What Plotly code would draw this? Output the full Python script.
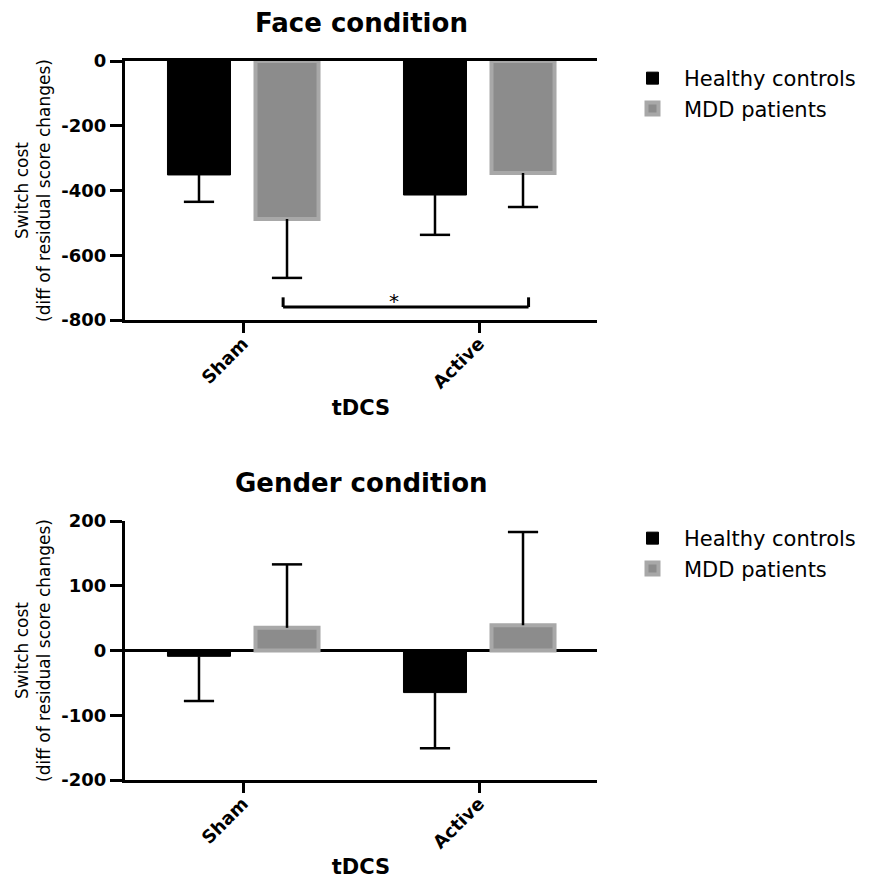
import plotly.graph_objects as go

# ---------------- data ----------------
categories = ["Sham", "Active"]
groups = ["Healthy controls", "MDD patients"]

face_hc = [-352, -414]
face_hc_err = [83, 123]
face_mdd = [-488, -346]
face_mdd_err = [182, 105]

gender_hc = [-9, -65]
gender_hc_err = [69, 86]
gender_mdd = [35, 39]
gender_mdd_err = [98, 144]

face_tickvals = [-800, -600, -400, -200, 0]
face_ticktext = ["-800", "-600", "-400", "-200", "0"]
gender_tickvals = [-200, -100, 0, 100, 200]
gender_ticktext = ["-200", "-100", "0", "100", "200"]

titles = ["Face condition", "Gender condition"]
x_title = "tDCS"
y_title = "Switch cost<br>(diff of residual score changes)"

# significance bracket (Face condition, MDD Sham vs MDD Active)
sig_x = [0.17, 1.21]
sig_y = -760
sig_tick = 30
sig_label = "*"

# ---------------- style ----------------
FONT = "DejaVu Sans"
HC_COLOR = "#000000"
MDD_FILL = "#8c8c8c"
MDD_LINE = "#a8a8a8"
BARGAP = 0.254
BARGROUPGAP = 0.284
CAP = 0.064

# page body has an 8px default margin -> size the figure to fit the window
OFF = 8
W, H = 874 - OFF, 879 - OFF


def fx(px):
    return (px - OFF) / W


def fy(py):
    return 1 - (py - OFF) / H


xpos = list(range(len(categories)))
slot = (1 - BARGAP) / 2
offsets = [-slot / 2, slot / 2]

fig = go.Figure()


def add_panel(hc, hc_err, mdd, mdd_err, xa, ya, legend):
    fig.add_trace(go.Bar(
        x=xpos, y=hc, name=groups[0], xaxis=xa, yaxis=ya, legend=legend,
        marker=dict(color=HC_COLOR, line=dict(color=HC_COLOR, width=1)),
        hoverinfo="y",
    ))
    fig.add_trace(go.Bar(
        x=xpos, y=mdd, name=groups[1], xaxis=xa, yaxis=ya, legend=legend,
        marker=dict(color=MDD_FILL, line=dict(color=MDD_LINE, width=4)),
        hoverinfo="y",
    ))
    ex, ey = [], []
    for vals, errs, off in ((hc, hc_err, offsets[0]), (mdd, mdd_err, offsets[1])):
        for i, (v, e) in enumerate(zip(vals, errs)):
            xc = xpos[i] + off
            end = v + (e if v >= 0 else -e)
            ex += [xc, xc, None, xc - CAP, xc + CAP, None]
            ey += [v, end, None, end, end, None]
    fig.add_trace(go.Scatter(
        x=ex, y=ey, mode="lines", xaxis=xa, yaxis=ya, showlegend=False,
        line=dict(color="black", width=2.5), hoverinfo="skip",
    ))


add_panel(face_hc, face_hc_err, face_mdd, face_mdd_err, "x", "y", "legend")
add_panel(gender_hc, gender_hc_err, gender_mdd, gender_mdd_err, "x2", "y2", "legend2")

xdom = [fx(125), fx(597)]
top_dom = [fy(320), fy(61)]
bot_dom = [fy(780), fy(521)]

tickfont = dict(family=FONT, size=18, color="black", weight="bold")


def xaxis_cfg(domain, anchor, mirror):
    return dict(
        domain=domain, anchor=anchor, type="linear", range=[-0.5, 1.5],
        tickvals=xpos, ticktext=categories, tickangle=-45, automargin=False,
        ticklabelstandoff=-7,
        showline=True, linecolor="black", linewidth=3, mirror=mirror,
        ticks="outside", ticklen=10, tickwidth=3, tickcolor="black",
        showgrid=False, zeroline=False, tickfont=tickfont,
        title=dict(text=x_title, font=dict(family=FONT, size=21, color="black", weight="bold"), standoff=9),
    )


def yaxis_cfg(domain, anchor, rng, tv, tt, zero):
    return dict(
        domain=domain, anchor=anchor, range=rng, tickvals=tv, ticktext=tt, automargin=False,
        showline=True, linecolor="black", linewidth=3,
        ticks="outside", ticklen=12, tickwidth=3, tickcolor="black",
        showgrid=False, zeroline=zero, zerolinecolor="black", zerolinewidth=3,
        tickfont=tickfont,
        title=dict(text=y_title, font=dict(family=FONT, size=17, color="black"), standoff=7),
    )


legend_font = dict(family=FONT, size=21, color="black")

fig.update_layout(
    width=W, height=H, autosize=False,
    margin=dict(l=0, r=0, t=0, b=0, pad=0),
    paper_bgcolor="white", plot_bgcolor="white",
    barmode="group", bargap=BARGAP, bargroupgap=BARGROUPGAP,
    font=dict(family=FONT, color="black"),
    xaxis=xaxis_cfg(xdom, "y", True),
    yaxis=yaxis_cfg(top_dom, "x", [-800, 0], face_tickvals, face_ticktext, False),
    xaxis2=xaxis_cfg(xdom, "y2", False),
    yaxis2=yaxis_cfg(bot_dom, "x2", [-200, 200], gender_tickvals, gender_ticktext, True),
    legend=dict(x=fx(621), y=fy(58), xanchor="left", yanchor="top",
                font=legend_font, itemwidth=53, bgcolor="rgba(0,0,0,0)"),
    legend2=dict(x=fx(621), y=fy(518), xanchor="left", yanchor="top",
                 font=legend_font, itemwidth=53, bgcolor="rgba(0,0,0,0)"),
    showlegend=True,
)

# subplot titles
for t, yp in zip(titles, [fy(23), fy(483)]):
    fig.add_annotation(text=t, x=(xdom[0] + xdom[1]) / 2, y=yp, xref="paper", yref="paper",
                       xanchor="center", yanchor="middle", showarrow=False,
                       font=dict(family=FONT, size=26, color="black", weight="bold"))

# significance bracket
fig.add_shape(type="line", xref="x", yref="y", x0=sig_x[0], x1=sig_x[1], y0=sig_y, y1=sig_y,
              line=dict(color="black", width=3))
for sx in sig_x:
    fig.add_shape(type="line", xref="x", yref="y", x0=sx, x1=sx, y0=sig_y, y1=sig_y + sig_tick,
                  line=dict(color="black", width=3))
fig.add_annotation(text=sig_label, x=(sig_x[0] + sig_x[1]) / 2 - 0.05, y=sig_y + 18, xref="x", yref="y",
                   showarrow=False, yanchor="middle",
                   font=dict(family=FONT, size=20, color="black"))

fig.write_html("out.html")
